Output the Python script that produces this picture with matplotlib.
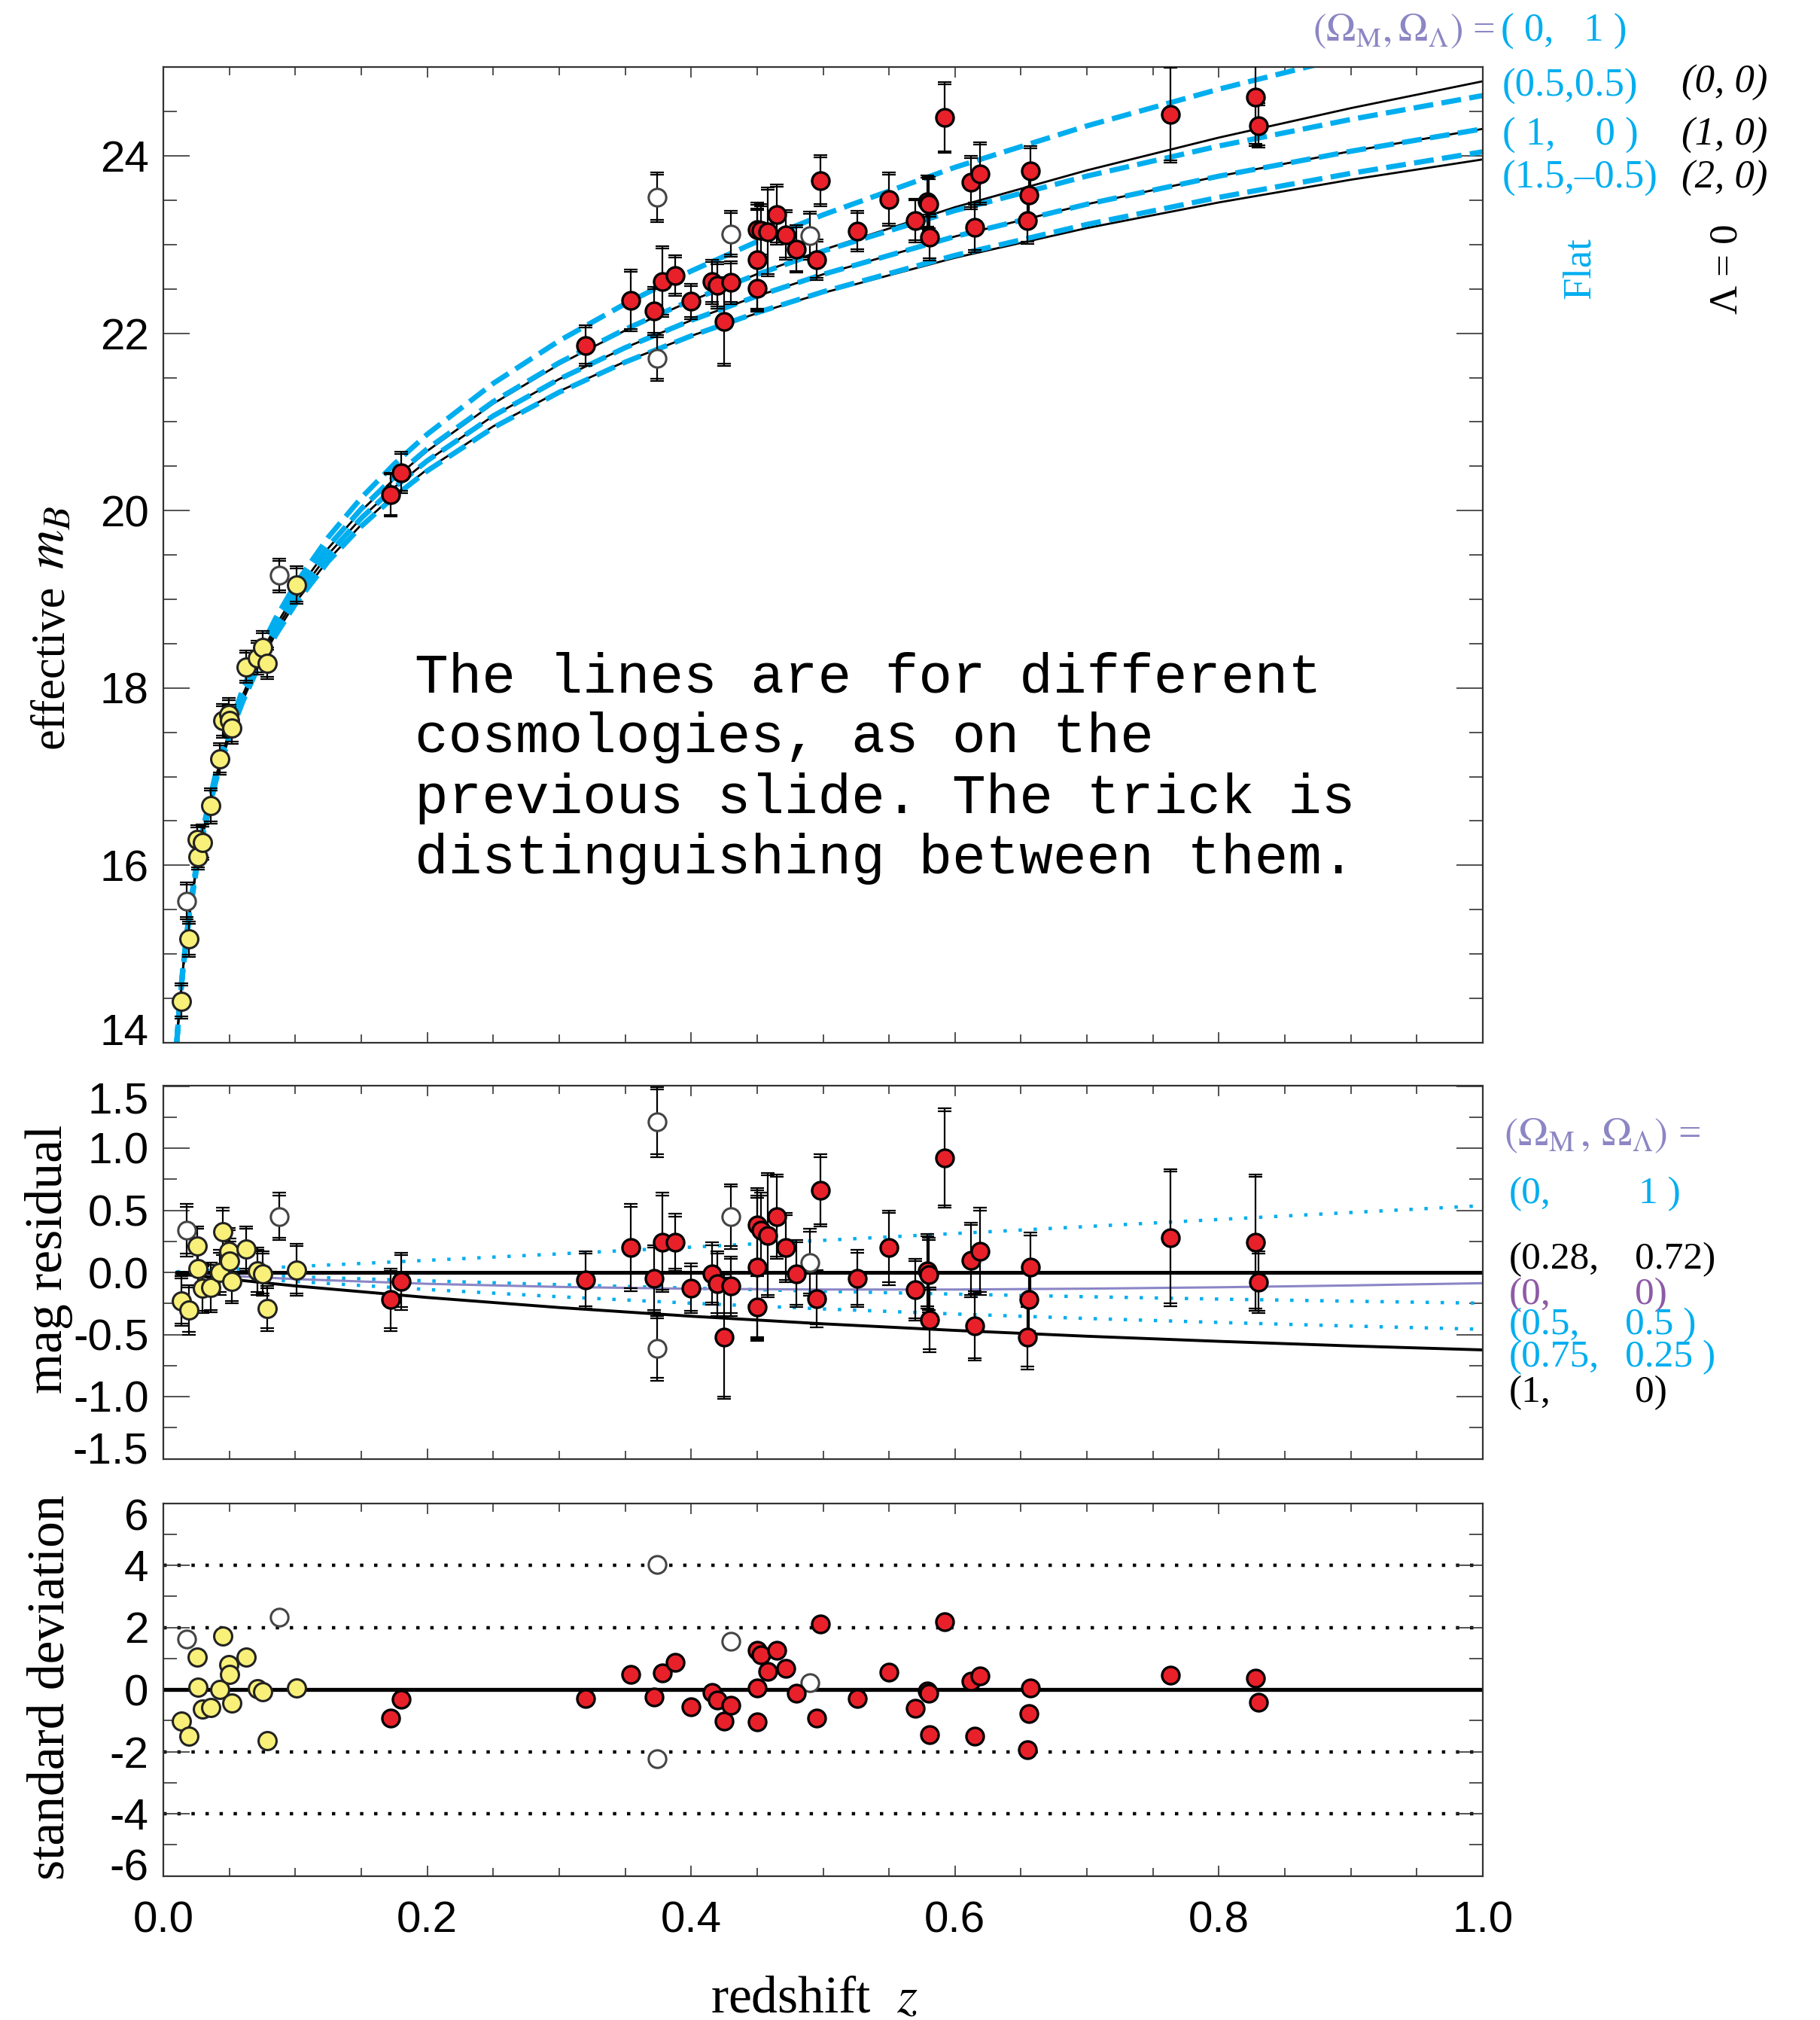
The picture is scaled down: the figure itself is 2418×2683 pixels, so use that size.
import numpy as np
import matplotlib
matplotlib.use('Agg')
import matplotlib.pyplot as plt
import matplotlib.transforms as mtransforms
from matplotlib.ticker import MultipleLocator, FormatStrFormatter

plt.rcParams['font.family'] = ['Liberation Sans', 'DejaVu Sans']
plt.rcParams['mathtext.fontset'] = 'stix'
plt.rcParams['axes.unicode_minus'] = False

# ---------------- data ----------------
# low-redshift (Calan/Tololo, yellow)
z_lo = [0.0138, 0.0196, 0.0259, 0.0260, 0.0298, 0.0360, 0.0430, 0.0449, 0.0498, 0.0500,
        0.0519, 0.0630, 0.0711, 0.0755, 0.0790, 0.1010]
m_lo = [14.47, 15.17, 16.29, 16.10, 16.26, 16.67, 17.20, 17.63, 17.70, 17.63,
        17.55, 18.24, 18.34, 18.46, 18.28, 19.16]
e_lo = [0.20, 0.20, 0.16, 0.15, 0.20, 0.20, 0.18, 0.19, 0.19, 0.18,
        0.18, 0.18, 0.19, 0.18, 0.18, 0.21]
r_lo = [-0.23, -0.30, 0.21, 0.03, -0.13, -0.12, 0.00, 0.33, 0.17, 0.09,
        -0.07, 0.19, 0.01, -0.01, -0.29, 0.02]
s_lo = [-1.03, -1.50, 1.05, 0.07, -0.63, -0.58, -0.01, 1.72, 0.81, 0.49,
        -0.43, 1.05, 0.02, -0.07, -1.66, 0.05]

# high-redshift (SCP, red)
z_hi = [0.172, 0.180, 0.320, 0.354, 0.372, 0.378, 0.388, 0.400, 0.416, 0.420,
        0.425, 0.430, 0.450, 0.453, 0.450, 0.450, 0.458, 0.465, 0.472, 0.480,
        0.495, 0.498, 0.526, 0.550, 0.570, 0.579, 0.580, 0.581, 0.592, 0.612,
        0.615, 0.619, 0.657, 0.656, 0.655, 0.763, 0.828, 0.830]
m_hi = [20.18, 20.43, 21.86, 22.37, 22.25, 22.58, 22.65, 22.36, 22.58, 22.54,
        22.13, 22.57, 23.17, 23.16, 22.83, 22.51, 23.14, 23.34, 23.11, 22.95,
        22.83, 23.72, 23.15, 23.51, 23.27, 23.48, 23.46, 23.08, 24.43, 23.70,
        23.19, 23.80, 23.83, 23.56, 23.27, 24.47, 24.66, 24.34]
e_hi = [0.25, 0.23, 0.23, 0.35, 0.27, 0.40, 0.23, 0.20, 0.25, 0.26,
        0.50, 0.24, 0.30, 0.30, 0.58, 0.27, 0.50, 0.34, 0.28, 0.27,
        0.23, 0.29, 0.23, 0.30, 0.25, 0.30, 0.30, 0.26, 0.40, 0.30,
        0.28, 0.35, 0.28, 0.27, 0.26, 0.55, 0.55, 0.25]
r_hi = [-0.22, -0.07, -0.06, 0.20, -0.05, 0.24, 0.24, -0.13, -0.01, -0.09,
        -0.52, -0.11, 0.38, 0.34, 0.04, -0.28, 0.30, 0.45, 0.20, -0.01,
        -0.21, 0.66, -0.05, 0.20, -0.14, 0.01, -0.02, -0.38, 0.92, 0.10,
        -0.43, 0.17, 0.04, -0.22, -0.52, 0.28, 0.24, -0.08]
s_hi = [-0.91, -0.31, -0.30, 0.49, -0.25, 0.54, 0.88, -0.56, -0.10, -0.33,
        -1.01, -0.50, 1.25, 1.12, 0.04, -1.05, 0.57, 1.25, 0.68, -0.12,
        -0.91, 2.12, -0.28, 0.56, -0.60, -0.04, -0.12, -1.46, 2.19, 0.27,
        -1.50, 0.44, 0.04, -0.77, -1.94, 0.45, 0.36, -0.40]

# excluded supernovae (open circles)
z_ex = [0.0179, 0.0880, 0.374, 0.374, 0.430, 0.490]
m_ex = [15.60, 19.27, 23.53, 21.72, 23.12, 23.10]
e_ex = [0.21, 0.19, 0.28, 0.26, 0.26, 0.27]
r_ex = [0.34, 0.45, 1.21, -0.61, 0.45, 0.08]
s_ex = [1.63, 2.32, 4.03, -2.22, 1.54, 0.22]

# model curves, effective m_B
z_mod = [0.01, 0.0125, 0.015, 0.02, 0.025, 0.03, 0.04, 0.05, 0.06, 0.07, 0.085, 0.1,
         0.125, 0.15, 0.175, 0.2, 0.25, 0.3, 0.35, 0.4, 0.45, 0.5, 0.6, 0.7, 0.8, 0.9, 1.0]
m_00 = [13.971, 14.458, 14.857, 15.487, 15.977, 16.378, 17.013, 17.508, 17.915, 18.260,
        18.698, 19.066, 19.576, 19.998, 20.357, 20.672, 21.206, 21.649, 22.031, 22.366,
        22.667, 22.940, 23.421, 23.837, 24.206, 24.538, 24.841]
m_10 = [13.965, 14.451, 14.849, 15.476, 15.963, 16.362, 16.991, 17.481, 17.882, 18.222,
        18.651, 19.011, 19.508, 19.915, 20.261, 20.562, 21.068, 21.483, 21.837, 22.145,
        22.419, 22.664, 23.091, 23.455, 23.771, 24.052, 24.304]
m_20 = [13.960, 14.445, 14.841, 15.465, 15.950, 16.346, 16.970, 17.455, 17.851, 18.186,
        18.607, 18.960, 19.445, 19.841, 20.175, 20.465, 20.950, 21.346, 21.680, 21.970,
        22.226, 22.455, 22.851, 23.186, 23.475, 23.731, 23.960]
m_01 = [13.982, 14.472, 14.873, 15.508, 16.003, 16.410, 17.056, 17.561, 17.977, 18.332,
        18.784, 19.167, 19.700, 20.144, 20.525, 20.861, 21.434, 21.915, 22.332, 22.701,
        23.033, 23.335, 23.871, 24.338, 24.752, 25.125, 25.465]
m_55 = [13.973, 14.461, 14.861, 15.492, 15.983, 16.385, 17.023, 17.520, 17.928, 18.275,
        18.715, 19.085, 19.598, 20.020, 20.381, 20.696, 21.228, 21.668, 22.044, 22.372,
        22.663, 22.926, 23.383, 23.772, 24.111, 24.411, 24.680]
m_15 = [13.957, 14.441, 14.837, 15.460, 15.944, 16.339, 16.961, 17.444, 17.839, 18.172,
        18.592, 18.944, 19.428, 19.823, 20.158, 20.448, 20.935, 21.335, 21.674, 21.970,
        22.232, 22.467, 22.878, 23.227, 23.532, 23.803, 24.046]

# residual curves (relative to 0.28, 0.72)
z_res = [0.01, 0.1, 0.2, 0.3, 0.4, 0.5, 0.6, 0.7, 0.8, 0.9, 1.0]
res_ref = [0, 0, 0, 0, 0, 0, 0, 0, 0, 0, 0]
res_01 = [0.005, 0.047, 0.097, 0.149, 0.203, 0.258, 0.313, 0.369, 0.426, 0.482, 0.537]
res_00 = [-0.006, -0.054, -0.092, -0.117, -0.132, -0.138, -0.138, -0.131, -0.120, -0.105, -0.087]
res_55 = [-0.004, -0.035, -0.068, -0.099, -0.127, -0.152, -0.175, -0.196, -0.215, -0.232, -0.248]
res_7525 = [-0.007, -0.073, -0.138, -0.196, -0.248, -0.294, -0.335, -0.371, -0.403, -0.432, -0.458]
res_10 = [-0.011, -0.109, -0.202, -0.283, -0.353, -0.414, -0.467, -0.514, -0.555, -0.592, -0.624]

sigma_lines = [-4, -2, 2, 4]
x_ticks = [0.0, 0.2, 0.4, 0.6, 0.8, 1.0]

# ---------------- styles ----------------
CYAN = '#00AEEF'
LAV = '#8C86C4'
PURP = '#8E5AA6'
PLINE = '#8A86C6'
RED = '#E8202A'
YEL = '#F9F07A'
SPINE = '#333333'
SERIF = ['Liberation Serif', 'DejaVu Serif']

W, H, DPI = 2418, 2683, 200
fig = plt.figure(figsize=(W / DPI, H / DPI), dpi=DPI)


def fx(px):
    return px / W


def fy(py):
    return 1 - py / H


X0, X1 = 217, 1970
ax1 = fig.add_axes([fx(X0), fy(1385), (X1 - X0) / W, (1385 - 89.2) / H])
ax2 = fig.add_axes([fx(X0), fy(1937.5), (X1 - X0) / W, 495 / H])
ax3 = fig.add_axes([fx(X0), fy(2491.5), (X1 - X0) / W, 495 / H])


def style(ax, ymaj, ymin):
    ax.set_xlim(0, 1)
    ax.xaxis.set_major_locator(MultipleLocator(0.2))
    ax.xaxis.set_minor_locator(MultipleLocator(0.05))
    ax.yaxis.set_major_locator(MultipleLocator(ymaj))
    ax.yaxis.set_minor_locator(MultipleLocator(ymin))
    ax.tick_params(which='both', direction='in', top=True, right=True,
                   width=0.6, color=SPINE, labelsize=21)
    ax.tick_params(axis='y', which='major', length=12.5, pad=7)
    ax.tick_params(axis='y', which='minor', length=6.5)
    ax.tick_params(axis='x', which='major', length=5, pad=12)
    ax.tick_params(axis='x', which='minor', length=4)
    for s in ax.spines.values():
        s.set_linewidth(0.8)
        s.set_color(SPINE)


def nudge_end_labels(ax, lo, hi, pts=5.5):
    locs = ax.yaxis.get_majorticklocs()
    ticks = ax.yaxis.get_major_ticks(len(locs))
    for tk, loc in zip(ticks, locs):
        if abs(loc - hi) < 1e-6:
            off = mtransforms.ScaledTranslation(0, -pts / 72, fig.dpi_scale_trans)
            tk.label1.set_transform(tk.label1.get_transform() + off)
        elif abs(loc - lo) < 1e-6:
            off = mtransforms.ScaledTranslation(0, pts / 72, fig.dpi_scale_trans)
            tk.label1.set_transform(tk.label1.get_transform() + off)


def errbars(ax, x, y, e, off):
    ax.errorbar(x, y, yerr=e, fmt='none', ecolor='k', elinewidth=0.8,
                capsize=3.4, capthick=0.8, zorder=3)
    e2 = np.asarray(e) - off
    ax.errorbar(x, y, yerr=e2, fmt='none', ecolor='k', elinewidth=0.0,
                capsize=3.4, capthick=0.8, zorder=3)


mk = dict(linestyle='none', marker='o', zorder=4)


def draw_points(ax, ye, yl, yh):
    ax.plot(z_ex, ye, mfc='white', mec='#444444', ms=8.4, mew=1.1, **mk)
    ax.plot(z_lo, yl, mfc=YEL, mec='#222222', ms=8.6, mew=1.1, **mk)
    ax.plot(z_hi, yh, mfc=RED, mec='k', ms=8.3, mew=1.2, **mk)


# ---------------- top panel ----------------
style(ax1, 2, 0.5)
ax1.set_ylim(14, 25)
ax1.yaxis.set_major_formatter(FormatStrFormatter('%d'))
ax1.tick_params(labelbottom=False)
dash = (0, (3.8, 1.6))
for mm in (m_00, m_10, m_20):
    ax1.plot(z_mod, mm, color='k', lw=1.0, zorder=2)
for mm in (m_01, m_55, m_10, m_15):
    ax1.plot(z_mod, mm, color=CYAN, lw=2.5, linestyle=dash, zorder=2.5)

errbars(ax1, z_ex, m_ex, e_ex, 0.025)
errbars(ax1, z_lo, m_lo, e_lo, 0.025)
errbars(ax1, z_hi, m_hi, e_hi, 0.025)
draw_points(ax1, m_ex, m_lo, m_hi)
nudge_end_labels(ax1, 14, 25, 6.5)

note = ["The lines are for different", "cosmologies, as on the",
        "previous slide. The trick is", "distinguishing between them."]
for i, line in enumerate(note):
    fig.text(fx(551), fy(919 + 80.3 * i), line, family='Liberation Mono',
             fontsize=26.8, ha='left', va='baseline', color='k')

# ---------------- middle panel ----------------
style(ax2, 0.5, 0.25)
ax2.set_ylim(-1.5, 1.5)
ax2.yaxis.set_major_formatter(FormatStrFormatter('%.1f'))
ax2.tick_params(labelbottom=False)
dots = (0, (1, 3.5))
ax2.plot(z_res, res_01, color=CYAN, lw=1.6, linestyle=dots, zorder=2)
ax2.plot(z_res, res_55, color=CYAN, lw=1.6, linestyle=dots, zorder=2)
ax2.plot(z_res, res_7525, color=CYAN, lw=1.6, linestyle=dots, zorder=2)
ax2.plot(z_res, res_00, color=PLINE, lw=1.1, zorder=2)
ax2.plot(z_res, res_10, color='k', lw=1.4, zorder=2)
ax2.plot(z_res, res_ref, color='k', lw=1.8, zorder=2)

errbars(ax2, z_ex, r_ex, e_ex, 0.02)
errbars(ax2, z_lo, r_lo, e_lo, 0.02)
errbars(ax2, z_hi, r_hi, e_hi, 0.02)
draw_points(ax2, r_ex, r_lo, r_hi)
nudge_end_labels(ax2, -1.5, 1.5)

# ---------------- bottom panel ----------------
style(ax3, 2, 1)
ax3.set_ylim(-6, 6)
ax3.yaxis.set_major_formatter(FormatStrFormatter('%d'))
ax3.set_xticks(x_ticks)
ax3.xaxis.set_major_formatter(FormatStrFormatter('%.1f'))
for v in sigma_lines:
    ax3.axhline(v, color='k', lw=1.6, linestyle=(0, (1, 3.2)), zorder=1)
ax3.axhline(0, color='k', lw=1.9, zorder=2)
draw_points(ax3, s_ex, s_lo, s_hi)
nudge_end_labels(ax3, -6, 6)

# ---------------- axis labels ----------------
fig.text(0.0285, 0.6702, 'effective', rotation=90, family=SERIF,
         fontsize=22.5, ha='center', va='center')
fig.text(0.0275, 0.7339, r'$m_B$', rotation=90, family=SERIF,
         fontsize=26, ha='center', va='center')
fig.text(0.0269, 0.3768, 'mag residual', rotation=90, family=SERIF,
         fontsize=25, ha='center', va='center')
fig.text(0.0281, 0.1647, 'standard deviation', rotation=90, family=SERIF,
         fontsize=25, ha='center', va='center')
fig.text(0.4475, 0.004, r'redshift  $z$', family=SERIF, fontsize=25,
         ha='center', va='baseline')

# ---------------- top-right labels ----------------
LS = 19
fig.text(fx(1744), fy(55), r'$(\Omega_{\rm M},\Omega_\Lambda)$ =', family=SERIF,
         fontsize=LS, color=LAV, ha='left', va='baseline')
fig.text(fx(1994), fy(55), '( 0,   1 )', family=SERIF, fontsize=LS, color=CYAN,
         ha='left', va='baseline')
fig.text(fx(1996), fy(128), '(0.5,0.5)', family=SERIF, fontsize=LS, color=CYAN,
         ha='left', va='baseline')
fig.text(fx(1996), fy(193), '( 1,    0 )', family=SERIF, fontsize=LS, color=CYAN,
         ha='left', va='baseline')
fig.text(fx(1996), fy(250), '(1.5,\u20130.5)', family=SERIF, fontsize=LS, color=CYAN,
         ha='left', va='baseline')
fig.text(fx(2234), fy(123), '(0, 0)', family=SERIF, fontsize=LS, style='italic',
         color='k', ha='left', va='baseline')
fig.text(fx(2234), fy(193), '(1, 0)', family=SERIF, fontsize=LS, style='italic',
         color='k', ha='left', va='baseline')
fig.text(fx(2234), fy(250), '(2, 0)', family=SERIF, fontsize=LS, style='italic',
         color='k', ha='left', va='baseline')
fig.text(fx(2099), fy(356), 'Flat', family=SERIF, fontsize=LS, color=CYAN,
         rotation=90, ha='center', va='center')
fig.text(fx(2294), fy(357), '\u039b = 0', family=SERIF, fontsize=LS, color='k',
         rotation=90, ha='center', va='center')

# ---------------- middle-right labels ----------------
LM = 18.5
fig.text(fx(1998), fy(1522), r'$(\Omega_{\rm M}\,,\,\Omega_\Lambda)$ =', family=SERIF,
         fontsize=19.5, color=LAV, ha='left', va='baseline')
rows = [(1598, '(0,', '1 )', 2177, CYAN),
        (1685, '(0.28,', '0.72)', 2172, 'k'),
        (1732, '(0,', '0)', 2172, PURP),
        (1772, '(0.5,', '0.5 )', 2159, CYAN),
        (1815, '(0.75,', '0.25 )', 2159, CYAN),
        (1862, '(1,', '0)', 2172, 'k')]
for yb, a, b, xb, c in rows:
    fig.text(fx(2005), fy(yb), a, family=SERIF, fontsize=LM, color=c,
             ha='left', va='baseline')
    fig.text(fx(xb), fy(yb), b, family=SERIF, fontsize=LM, color=c,
             ha='left', va='baseline')

fig.savefig('out.png', dpi=DPI)
